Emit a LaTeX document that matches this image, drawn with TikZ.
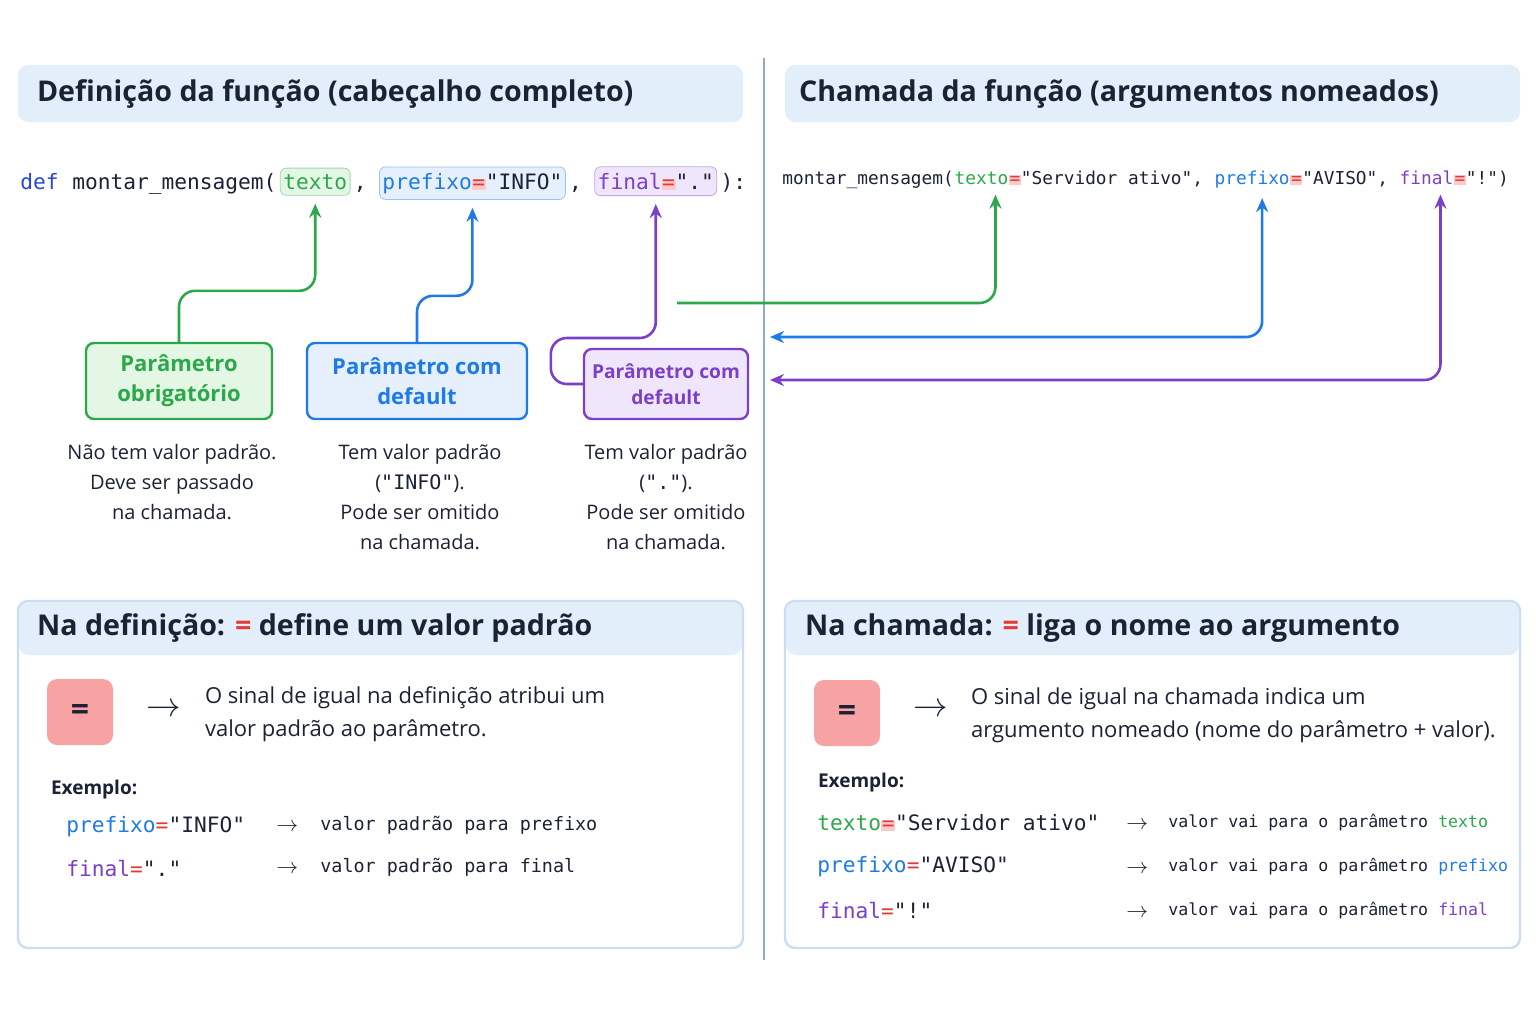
\documentclass[tikz,border=0pt]{standalone}
\usepackage{fontspec}
\setmainfont{Open Sans}
\setmonofont{DejaVu Sans Mono}
\usetikzlibrary{arrows.meta,positioning}
\definecolor{ink}{HTML}{1B2233}
\definecolor{gr}{HTML}{2BA84A}
\definecolor{grbg}{HTML}{E4F6E4}
\definecolor{bl}{HTML}{1E7BE6}
\definecolor{blbg}{HTML}{E6F0FC}
\definecolor{pu}{HTML}{7B3FC8}
\definecolor{pubg}{HTML}{F0E6FB}
\definecolor{kw}{HTML}{2548D0}
\definecolor{hdr}{HTML}{E3EEFB}
\definecolor{frame}{HTML}{C9DDF4}
\definecolor{eqred}{HTML}{E53935}
\definecolor{eqbg}{HTML}{FBC9C9}
\definecolor{sq}{HTML}{F8A3A3}
\definecolor{divider}{HTML}{8FAACB}
\newcommand\eqr{\begingroup\setlength\fboxsep{0.3pt}\colorbox{eqbg}{\color{eqred}=}\endgroup}
\newcommand\tsp{\phantom{x}}
\tikzset{
  code/.style={inner sep=0pt, anchor=base west, font=\ttfamily\fontsize{10.6}{13}\selectfont, text=ink},
  rcode/.style={code, font=\ttfamily\fontsize{8.9}{11}\selectfont},
  hl/.style={draw=#1!45, fill=#1bg, rounded corners=3pt, inner xsep=1.5pt, inner ysep=3pt},
  pbox/.style={draw=#1, fill=#1bg, line width=1.2pt, rounded corners=4pt, align=center,
    font=\bfseries\fontsize{11}{15}\selectfont, text=#1},
  desc/.style={align=center, font=\fontsize{10}{15}\selectfont, text=ink},
  link/.style={#1, line width=1.3pt, rounded corners=8pt},
  tip/.style={-{Stealth[length=7pt,width=6pt]}},
  hdrbox/.style={fill=hdr, rounded corners=5pt},
  panel/.style={draw=frame, line width=1.2pt, fill=white, rounded corners=5pt},
  title/.style={anchor=west, font=\bfseries\fontsize{14.3}{18}\selectfont, text=ink},
  body/.style={anchor=west, align=left, font=\fontsize{11}{16.5}\selectfont, text=ink},
  mono/.style={anchor=west, inner sep=0pt, font=\ttfamily\fontsize{10.6}{12}\selectfont, text=ink},
  mnote/.style={mono, font=\ttfamily\fontsize{9.2}{12}\selectfont},
  rnote/.style={mono, font=\ttfamily\fontsize{8.3}{12}\selectfont},
  arr/.style={mono, font=\fontsize{11}{12}\selectfont},
  eqsq/.style={fill=sq, rounded corners=5pt, minimum size=33pt, font=\bfseries\fontsize{16}{16}\selectfont, text=ink},
}
\begin{document}
\begin{tikzpicture}[x=0.5pt, y=-0.5pt]
\useasboundingbox (0,0) rectangle (1536,1024);
% headers
\fill[hdrbox] (18,65) rectangle (743,122);
\node[title] (hl) at (30,94) {Definição da função (cabeçalho completo)};
\fill[hdrbox] (785,65) rectangle (1520,122);
\node[title] (hr) at (792,94) {Chamada da função (argumentos nomeados)};
\draw[divider, line width=1.2pt] (764,58) -- (764,960);

% left code line
\node[code] (kdef) at (20,189) {\color{kw}def};
\node[code] (fn) at ([xshift=6.4pt]kdef.base east) {montar\_mensagem(};
\node[code, hl=gr] (txt) at ([xshift=1.5pt]fn.base east) {\color{gr}texto};
\node[code] (c1) at ([xshift=1.5pt]txt.base east) {,};
\node[code, hl=bl] (pre) at ([xshift=6pt]c1.base east) {\color{bl}prefixo\eqr\color{ink}"INFO"};
\node[code] (c2) at ([xshift=1.5pt]pre.base east) {,};
\node[code, hl=pu] (fin) at ([xshift=6pt]c2.base east) {\color{pu}final\eqr\color{ink}"."};
\node[code] (c3) at ([xshift=1.5pt]fin.base east) {):};

% right code line
\node[rcode] (rfn) at (782,184) {montar\_mensagem(};
\node[rcode] (rtxt) at (rfn.base east) {\color{gr}texto};
\node[rcode] (r1) at (rtxt.base east) {\eqr"Servidor\tsp ativo",\tsp};
\node[rcode] (rpre) at (r1.base east) {\color{bl}prefixo};
\node[rcode] (r2) at (rpre.base east) {\eqr"AVISO",\tsp};
\node[rcode] (rfin) at (r2.base east) {\color{pu}final};
\node[rcode] (r3) at (rfin.base east) {\eqr"!")};

% parameter boxes
\node[pbox=gr, minimum width=93pt, minimum height=38pt] (ob) at (179,381) {Parâmetro\\obrigatório};
\node[pbox=bl, minimum width=110pt, minimum height=38pt] (db) at (417,381) {Parâmetro com\\default};
\node[pbox=pu, minimum width=82pt, minimum height=35pt, font=\bfseries\fontsize{9.6}{13}\selectfont] (pd) at (666,384) {Parâmetro com\\default};

\node[desc, anchor=north] (obd) at (172,437) {Não tem valor padrão.\\Deve ser passado\\na chamada.};
\node[desc, anchor=north] (dbd) at (420,437) {Tem valor padrão\\(\texttt{"INFO"}).\\Pode ser omitido\\na chamada.};
\node[desc, anchor=north] (pdd) at (666,437) {Tem valor padrão\\(\texttt{"."}).\\Pode ser omitido\\na chamada.};

% connectors
\draw[link=gr, tip] (ob.north) -- ++(0,-51) -| ([yshift=-4pt]txt.south);
\draw[link=bl, tip] (db.north) -- ++(0,-46) -| ([yshift=-4pt]pre.south);
\draw[link=pu, tip] (pd.west) -- ++(-32,0) -- ++(0,-46) -| ([yshift=-4pt]fin.south);
\coordinate (gstart) at (677,303);
\coordinate (bend) at (770,337);
\coordinate (pend) at (770,380);
\draw[link=gr, tip] (gstart) -| ([xshift=7pt,yshift=-5pt]rtxt.south);
\draw[link=bl, {Stealth[length=7pt,width=6pt]}-{Stealth[length=7pt,width=6pt]}] (bend) -| ([xshift=5pt,yshift=-5pt]rpre.south);
\draw[link=pu, {Stealth[length=7pt,width=6pt]}-{Stealth[length=7pt,width=6pt]}] (pend) -| ([xshift=7pt,yshift=-5pt]rfin.south);

% bottom left panel
\draw[panel] (18,601) rectangle (743,948);
\fill[hdr, rounded corners=5pt] (19,602) rectangle (742,655);
\node[title] (bl1) at (30,628) {Na definição: \textcolor{eqred}{=} define um valor padrão};
\node[eqsq] (sql) at (80,712) {=};
\node[arr] (al) at (146,710) {\fontsize{16}{16}\selectfont$\rightarrow$};
\node[body] (tl) at (198,714) {O sinal de igual na definição atribui um\\valor padrão ao parâmetro.};
\node[body, font=\bfseries\fontsize{9.5}{12}\selectfont] (exl) at (44,790) {Exemplo:};
\node[mono] (el1) at (66,827) {\color{bl}prefixo\color{eqred}=\color{ink}"INFO"};
\node[arr] (al1) at (276,827) {$\rightarrow$};
\node[mnote] (vl1) at (320,825) {valor padrão para prefixo};
\node[mono] (el2) at (66,869) {\color{pu}final\color{eqred}=\color{ink}"."};
\node[arr] (al2) at (276,869) {$\rightarrow$};
\node[mnote] (vl2) at (320,867) {valor padrão para final};

% bottom right panel
\draw[panel] (785,601) rectangle (1520,948);
\fill[hdr, rounded corners=5pt] (786,602) rectangle (1519,655);
\node[title] (br1) at (798,628) {Na chamada: \textcolor{eqred}{=} liga o nome ao argumento};
\node[eqsq] (sqr) at (847,713) {=};
\node[arr] (ar) at (913,710) {\fontsize{16}{16}\selectfont$\rightarrow$};
\node[body] (tr) at (964,715) {O sinal de igual na chamada indica um\\argumento nomeado (nome do parâmetro + valor).};
\node[body, font=\bfseries\fontsize{9.5}{12}\selectfont] (exr) at (811,783) {Exemplo:};
\node[mono] (er1) at (817,823) {\color{gr}texto\eqr\color{ink}"Servidor ativo"};
\node[arr] (ar1) at (1126,825) {$\rightarrow$};
\node[rnote] (vr1) at (1168,823) {valor vai para o parâmetro \textcolor{gr}{texto}};
\node[mono] (er2) at (817,867) {\color{bl}prefixo\color{eqred}=\color{ink}"AVISO"};
\node[arr] (ar2) at (1126,869) {$\rightarrow$};
\node[rnote] (vr2) at (1168,867) {valor vai para o parâmetro \textcolor{bl}{prefixo}};
\node[mono] (er3) at (817,911) {\color{pu}final\color{eqred}=\color{ink}"!"};
\node[arr] (ar3) at (1126,913) {$\rightarrow$};
\node[rnote] (vr3) at (1168,911) {valor vai para o parâmetro \textcolor{pu}{final}};
\end{tikzpicture}
\end{document}
